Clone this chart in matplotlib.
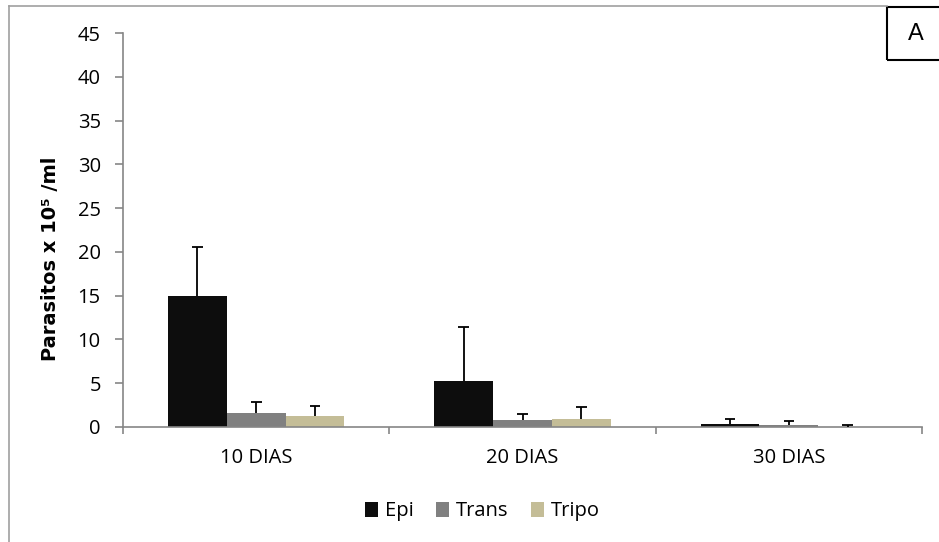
import numpy as np
import matplotlib
matplotlib.use('Agg')
import matplotlib.pyplot as plt
from matplotlib.patches import Rectangle
from matplotlib.lines import Line2D

categories = ['10 DIAS', '20 DIAS', '30 DIAS']
series = ['Epi', 'Trans', 'Tripo']
epi = [15.0, 5.3, 0.35]
trans = [1.6, 0.78, 0.2]
tripo = [1.2, 0.9, 0.03]
epi_err = [5.6, 6.1, 0.55]
trans_err = [1.2, 0.7, 0.5]
tripo_err = [1.2, 1.4, 0.25]
colors = ['#0d0d0d', '#808080', '#c4bd97']

plt.rcParams['font.family'] = ['Open Sans', 'DejaVu Sans']

fig = plt.figure(figsize=(9.39, 5.42), dpi=100)
ax = fig.add_axes([0.131, 0.2122, 0.851, 0.7268])

x = np.arange(len(categories))
w = 0.221
cap = 0.02
values = [epi, trans, tripo]
errs = [epi_err, trans_err, tripo_err]
for i in range(3):
    pos = x + (i - 1) * w
    top = np.array(values[i]) + np.array(errs[i])
    ax.bar(pos, values[i], w, color=colors[i], label=series[i], zorder=2)
    # upper error bars only
    ax.vlines(pos, values[i], top, color='black', lw=1.3, zorder=3)
    ax.hlines(top, pos - cap, pos + cap, color='black', lw=1.3, zorder=3)

ax.set_xlim(-0.5, 2.5)
ax.set_ylim(0, 45)
ax.set_yticks(np.arange(0, 46, 5))
ax.set_xticks(x)
ax.set_xticklabels(categories)
ax.set_xticks([-0.5, 0.5, 1.5, 2.5], minor=True)
ax.tick_params(axis='x', which='major', length=0, labelsize=14.5, pad=15)
ax.tick_params(axis='x', which='minor', length=5, color='#868686', width=1.2)
ax.tick_params(axis='y', length=6, color='#868686', width=1.2, labelsize=14.5, pad=10)
for s in ['top', 'right']:
    ax.spines[s].set_visible(False)
for s in ['left', 'bottom']:
    ax.spines[s].set_color('#868686')
    ax.spines[s].set_linewidth(1.2)

ax.set_ylabel('Parasitos x 10⁵ /ml', fontsize=14, fontweight='bold',
              family='DejaVu Sans')
ax.yaxis.set_label_coords(-0.079, 0.426)

ax.legend(loc='center', bbox_to_anchor=(0.45, -0.214), ncol=3, frameon=False,
          fontsize=14.5, handlelength=0.65, handleheight=0.75, handletextpad=0.35,
          columnspacing=1.1)

# chart border and the "A" box
fig.add_artist(Line2D([0.0096, 0.0096], [0, 0.989], color='#a0a0a0', lw=1.2))
fig.add_artist(Line2D([0.0096, 0.945], [0.989, 0.989], color='#a0a0a0', lw=1.2))
fig.add_artist(Rectangle((0.945, 0.889), 0.06, 0.098, transform=fig.transFigure,
                         fill=False, edgecolor='black', lw=1.5))
fig.text(0.975, 0.938, 'A', family='Liberation Sans', fontsize=17,
         ha='center', va='center')

fig.savefig('out.png', dpi=100)
